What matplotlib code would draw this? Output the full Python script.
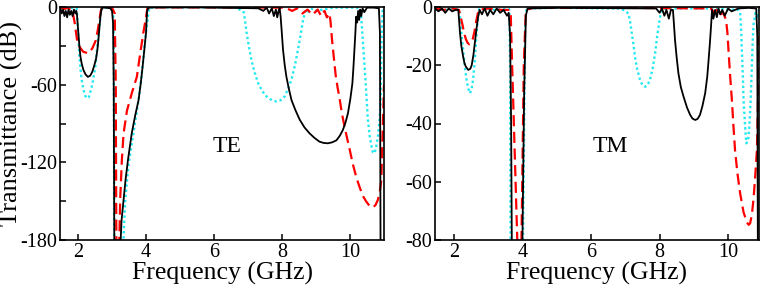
import matplotlib
matplotlib.use("Agg")
import matplotlib.pyplot as plt

plt.rcParams['font.family'] = ['Liberation Serif', 'DejaVu Serif']
plt.rcParams['axes.unicode_minus'] = False

# ---- TE panel data (frequency in GHz, transmittance in dB) ----
te_f_black = [1.48, 1.52, 1.56, 1.6, 1.64, 1.68, 1.72, 1.76, 1.8, 1.84, 1.88, 1.92, 1.95,
              1.97, 2.0, 2.04, 2.07, 2.11, 2.16, 2.22, 2.29, 2.36, 2.42, 2.48, 2.53,
              2.57, 2.6, 2.63, 2.66, 2.69, 2.72,
              2.8, 2.95, 3.0, 3.03, 3.05, 3.07, 3.22, 3.28, 3.34, 3.4, 3.47, 3.58, 3.68,
              3.78, 3.85, 3.9, 3.95, 4.0, 4.03, 4.07, 4.3, 5.5, 7.3, 7.45, 7.55, 7.62,
              7.7, 7.76, 7.82, 7.86, 7.9,
              7.93, 7.96, 8.0, 8.03, 8.08, 8.13, 8.2, 8.28, 8.4, 8.52, 8.66, 8.81, 8.95,
              9.1, 9.22, 9.35, 9.48, 9.6, 9.7, 9.79, 9.87, 9.94, 10.01, 10.07, 10.1,
              10.13, 10.16, 10.18, 10.21, 10.24, 10.27, 10.3, 10.33, 10.37, 10.42, 10.5,
              10.7, 10.85, 10.88, 10.9]
te_db_black = [-1, -5, -2, -7, -3, -8, -2, -6, -3, -7, -2, -5, -3,
               -6, -17, -30, -38, -44, -48.7, -52, -54, -53, -50, -45, -40,
               -33, -25, -16, -7, -1.5, -0.5,
               -0.5, -1, -3, -12, -60, -200, -200, -165, -149, -133, -118, -97.6, -84,
               -72, -58, -46, -33, -20, -3, -0.5, -0.3, -0.3, -1, -3, -0.5, -5,
               -1, -7, -2, -8, -3,
               -1, -7.5, -22, -33, -45, -54, -63, -72, -80, -87, -93, -97.6, -101,
               -104, -105, -105.3, -104.5, -103, -99.5, -95, -89, -82, -71, -59, -47,
               -33, -19, -7.5, -12, -3, -10, -2, -7, -1, -4, -0.5,
               -0.5, -1, -20, -200]

te_f_red = [1.48, 1.6, 1.7, 1.78, 1.83, 1.9, 1.97, 2.05, 2.15, 2.3, 2.42, 2.52, 2.58,
            2.63, 2.67, 2.71, 2.8, 3.0, 3.08, 3.11, 3.13, 3.2, 3.24, 3.29, 3.34, 3.44,
            3.58, 3.73, 3.83, 3.92, 4.0, 4.04, 4.2, 6.0, 8.1, 8.3, 8.45, 8.6, 8.75,
            8.9, 9.05, 9.15, 9.25, 9.32, 9.4, 9.43, 9.47, 9.52, 9.58, 9.64, 9.69, 9.76,
            9.84, 9.92, 9.99, 10.08, 10.18, 10.28, 10.38, 10.47, 10.57, 10.67, 10.75,
            10.82, 10.88, 10.92, 10.96, 11.0]
te_db_red = [-0.5, -1.5, -0.5, -2, -2, -12, -25, -31, -34.5, -35.8, -32, -26, -18,
             -10, -3, -0.5, -0.3, -0.5, -5, -60, -200, -200, -149, -118, -97.6, -80,
             -66.7, -54, -35.8, -20, -8, -1, -0.3, -0.3, -0.5, -3, -1, -5, -2,
             -6, -2, -7, -3, -8, -5, -12, -25, -38, -53, -63, -70, -82,
             -92.5, -102, -110, -121, -131, -139, -146, -150, -153.5, -155, -153,
             -149, -142, -134, -97, -60]

te_f_cyan = [1.48, 1.6, 1.75, 1.9, 1.96, 2.0, 2.04, 2.1, 2.14, 2.18, 2.22, 2.27, 2.32,
             2.36, 2.4, 2.44, 2.51, 2.57, 2.63, 2.68, 2.72, 2.9, 3.03, 3.05, 3.07, 3.3,
             3.39, 3.48, 3.63, 3.78, 3.9, 3.97, 4.07, 4.1, 4.5, 6.6, 6.72, 6.78, 6.82,
             6.86, 6.91, 6.96, 7.03, 7.1, 7.2, 7.3, 7.42, 7.54, 7.7, 7.84, 7.96, 8.08,
             8.18, 8.28, 8.38, 8.47, 8.55, 8.62, 8.7, 8.8, 8.9, 9.0, 9.5, 10.2, 10.28,
             10.33, 10.38, 10.43, 10.48, 10.52, 10.57, 10.62, 10.67, 10.72, 10.77, 10.82,
             10.85, 10.88, 10.9, 10.93, 10.96, 11.0]
te_db_cyan = [-0.5, -1, -0.5, -1, -1, -18, -38, -55, -61, -66, -69, -70.5, -69.5,
              -66, -62, -57, -46, -30, -14, -3, -0.5, -0.3, -1, -20, -200, -200,
              -149, -123, -97.6, -72, -46, -26, -5, -0.5, -0.3, -0.3, -1, -3, -0.5,
              -2, -10, -20, -31, -41, -51, -59, -65, -69, -72, -73, -72, -69,
              -63, -56, -45, -33, -21, -10, -2, -4, -1, -3, -0.5, -0.5, -2,
              -7.5, -27, -46, -67, -85, -98, -106, -112, -113, -108, -100,
              -92.5, -83, -72, -20, -3, -1]

# ---- TM panel data ----
tm_f_black = [1.45, 1.55, 1.65, 1.75, 1.85, 1.95, 2.05, 2.13, 2.18, 2.22, 2.27, 2.31,
              2.35, 2.42, 2.48, 2.52, 2.57, 2.61, 2.66, 2.71, 2.75, 2.82, 2.9, 2.98,
              3.06, 3.15, 3.25, 3.35, 3.45, 3.55, 3.6, 3.64, 3.67, 3.7, 3.98, 4.05, 4.1,
              4.15, 5.0, 7.9, 8.0, 8.07, 8.14, 8.2, 8.27, 8.33,
              8.39, 8.42, 8.45, 8.5, 8.55, 8.62, 8.7, 8.8, 8.89, 8.96, 9.04, 9.11, 9.18,
              9.25, 9.33, 9.39, 9.43, 9.47, 9.5, 9.53,
              9.57, 9.62, 9.67, 9.72, 9.77, 9.83, 9.9, 10.0, 10.1, 10.3, 10.6,
              10.82, 10.85, 10.87]
tm_db_black = [-0.5, -1.5, -0.5, -2, -0.5, -1.5, -1, -1, -9, -13.5, -17, -19.3,
               -20.5, -21.6, -21.2, -20, -16.5, -12.5, -7.5, -3.3, -1, -2.5, -0.5, -3,
               -1, -2.5, -0.5, -2, -1, -3, -2, -10, -40, -100, -100, -30, -3,
               -0.5, -0.3, -0.5, -2, -0.5, -3, -1, -4, -1,
               -1, -6, -11.3, -17.5, -22.8, -27.5, -30.8, -34.5, -37, -38.3, -38.8,
               -38.4, -37, -34, -29.6, -24, -18.2, -12, -6.8, -1,
               -4, -1, -3.5, -0.5, -2.5, -1, -3, -0.5, -1.5, -0.5, -0.3,
               -0.5, -10, -100]

tm_f_red = [1.45, 1.7, 1.95, 2.15, 2.2, 2.25, 2.3, 2.35, 2.4, 2.45, 2.5, 2.55, 2.6,
            2.65, 2.72, 3.0, 3.4, 3.62, 3.66, 3.7, 3.8, 3.9, 3.95, 4.04, 4.1, 4.3, 7.0,
            9.5, 9.6, 9.7, 9.78, 9.86, 9.94, 9.98, 10.01, 10.06, 10.11, 10.15, 10.2,
            10.27, 10.35, 10.45, 10.55, 10.6, 10.64, 10.69, 10.74, 10.79, 10.84, 10.87,
            10.9]
tm_db_red = [-0.5, -1, -0.5, -1, -3.5, -6, -9, -11, -12.3, -12.8, -12.3, -11, -8.5,
             -5, -1, -0.5, -1, -1, -3, -20, -60, -100, -100, -20, -1, -0.3, -0.3,
             -0.5, -2, -0.5, -2.5, -2, -4.5, -9, -14.8, -24, -32, -40, -49,
             -57, -64, -70.5, -74, -74.8, -74.3, -71.5, -66, -58, -49, -33,
             -10]

tm_f_cyan = [1.45, 1.8, 2.1, 2.15, 2.18, 2.22, 2.27, 2.32, 2.37, 2.42, 2.47, 2.52, 2.56,
             2.6, 2.63, 2.67, 2.71, 2.75, 3.2, 3.6, 3.62, 3.64, 3.66, 4.0, 4.08, 4.12,
             5.0, 6.8, 6.94, 7.09, 7.14, 7.19, 7.24, 7.28, 7.35, 7.43, 7.5, 7.58, 7.65,
             7.72, 7.8, 7.87, 7.93, 7.97, 8.02, 8.07, 8.2, 9.5, 10.3, 10.35, 10.38,
             10.4, 10.43, 10.45, 10.49, 10.53, 10.58, 10.62, 10.66, 10.69, 10.72,
             10.74, 10.8, 10.85, 10.9]
tm_db_cyan = [-0.5, -1, -0.5, -1, -3.3, -9, -14.8, -20.5, -25, -28, -29.6, -28, -25,
              -20, -14.8, -8, -3, -0.5, -1, -0.5, -1, -20, -100, -100, -5, -0.5,
              -0.3, -0.5, -1, -2.2, -5, -9, -13, -17, -21.5, -25, -26.8, -27.4, -26.8,
              -25, -21, -15.9, -10, -6.8, -3, -1, -0.5, -0.5, -1, -2, -8,
              -14.8, -24, -32, -40, -46.8, -46, -41, -31, -20.5, -11,
              -6, -2, -4, -1]

fig = plt.figure(figsize=(7.61, 2.91), dpi=100)
ax1 = fig.add_axes([60 / 761, 51 / 291, 324 / 761, 233 / 291])
ax2 = fig.add_axes([435 / 761, 51 / 291, 324 / 761, 233 / 291])

black_kw = dict(color='black', lw=1.3, solid_joinstyle='round')
red_kw = dict(color='#ff0000', lw=1.6, dashes=(5, 2.5))
cyan_kw = dict(color='#22e8f0', lw=1.7, dashes=(1, 1.2))

ax1.plot(te_f_cyan, te_db_cyan, **cyan_kw)
ax1.plot(te_f_red, te_db_red, **red_kw)
ax1.plot(te_f_black, te_db_black, **black_kw)

ax2.plot(tm_f_cyan, tm_db_cyan, **cyan_kw)
ax2.plot(tm_f_red, tm_db_red, **red_kw)
ax2.plot(tm_f_black, tm_db_black, **black_kw)

ax1.set_xlim(1.47, 11.0)
ax1.set_ylim(-180, 0)
ax1.set_yticks([0, -30, -60, -90, -120, -150, -180])
ax1.set_yticklabels(['0', '', '-60', '', '-120', '', '-180'])

ax2.set_xlim(1.45, 10.9)
ax2.set_ylim(-80, 0)
ax2.set_yticks([0, -20, -40, -60, -80])
ax2.set_yticklabels(['0', '-20', '-40', '-60', '-80'])

for ax in (ax1, ax2):
    ax.set_xticks([2, 4, 6, 8, 10])
    ax.tick_params(direction='in', length=4, width=1.1, labelsize=14.5, pad=2,
                   top=False, right=False)
    for sp in ax.spines.values():
        sp.set_linewidth(1.2)
    ax.set_xlabel('Frequency (GHz)', fontsize=18.5, labelpad=0)

# y label pinned to the left edge of the figure
fig.text(0.0, 0.575, 'Transmittance (dB)', fontsize=19, rotation=90,
         ha='left', va='center')

ax1.text(6.37, -108, 'TE', fontsize=17, ha='center', va='center')
ax2.text(6.55, -48, 'TM', fontsize=17, ha='center', va='center')

fig.savefig('out.png', dpi=100)
